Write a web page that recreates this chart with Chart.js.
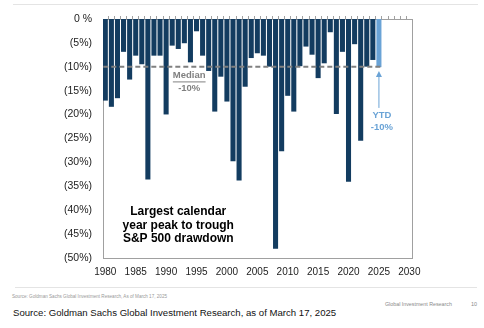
<!DOCTYPE html>
<html>
<head>
<meta charset="utf-8">
<script src="https://cdn.jsdelivr.net/npm/chart.js@4/dist/chart.umd.min.js"></script>
<style>
  html, body { margin: 0; padding: 0; background: #fff; }
  #page { position: relative; width: 484px; height: 328px; overflow: hidden; font-family: "Liberation Sans", Arial, sans-serif; }
  #chartBox { position: absolute; left: 0; top: 0; width: 484px; height: 280px; }
  .rule { position: absolute; height: 1px; background: #e4e4e4; }
  .tiny { position: absolute; left: 12px; top: 294px; font-size: 4.6px; color: #999; white-space: nowrap; }
  .brand { position: absolute; left: 385px; top: 301px; font-size: 5.3px; color: #8a8a8a; white-space: nowrap; }
  .pageNo { position: absolute; left: 471px; top: 301px; font-size: 5.5px; color: #8a8a8a; }
  .source { position: absolute; left: 13px; top: 307px; font-size: 9.6px; color: #111; white-space: nowrap; }
</style>
</head>
<body>
<div id="page">
  <div class="rule" style="left:13px; top:4px; width:465px;"></div>
  <div id="chartBox"><canvas id="drawdownChart"></canvas></div>
  <div class="rule" style="left:15px; top:287px; width:462px;"></div>
  <div class="tiny">Source: Goldman Sachs Global Investment Research, As of March 17, 2025</div>
  <div class="brand">Global Investment Research</div>
  <div class="pageNo">10</div>
  <div class="source">Source: Goldman Sachs Global Investment Research, as of March 17, 2025</div>
</div>
<script>
// calendar years with a full-year drawdown, plus the current year-to-date
const years = [
  1980, 1981, 1982, 1983, 1984, 1985, 1986, 1987, 1988, 1989,
  1990, 1991, 1992, 1993, 1994, 1995, 1996, 1997, 1998, 1999,
  2000, 2001, 2002, 2003, 2004, 2005, 2006, 2007, 2008, 2009,
  2010, 2011, 2012, 2013, 2014, 2015, 2016, 2017, 2018, 2019,
  2020, 2021, 2022, 2023, 2024
];
// peak-to-trough drawdown in each calendar year (%)
const drawdowns = [
  -17.0, -18.3, -16.5, -6.8, -12.6, -7.6, -9.4, -33.5, -7.6, -7.6,
  -19.9, -5.5, -6.2, -5.0, -9.0, -2.5, -7.6, -10.8, -19.3, -12.0,
  -17.2, -29.7, -33.7, -14.1, -8.1, -7.1, -7.6, -9.9, -48.0, -27.6,
  -16.0, -19.3, -9.8, -5.7, -7.4, -12.3, -9.2, -2.7, -19.8, -6.8,
  -34.0, -5.2, -25.4, -9.9, -8.5
];
const ytdYear = 2025;
const ytdDrawdown = -10;
const medianDrawdown = -10;
const yTicks = [0, -5, -10, -15, -20, -25, -30, -35, -40, -45, -50];
const xTicks = [1980, 1985, 1990, 1995, 2000, 2005, 2010, 2015, 2020, 2025, 2030];

const NAVY = '#133c60';
const LIGHT_BLUE = '#6aa3d6';
const GREY = '#808080';
const AXIS = '#a0a0a0';
const FONT = '"Liberation Sans", Arial, sans-serif';

const frame = {
  id: 'frame',
  beforeDatasetsDraw(chart) {
    const { ctx, chartArea: a } = chart;
    ctx.save();
    ctx.strokeStyle = AXIS;
    ctx.lineWidth = 1;
    ctx.strokeRect(Math.round(a.left) + 0.5, Math.round(a.top) + 0.5,
      Math.round(a.right - a.left), Math.round(a.bottom - a.top));
    ctx.restore();
  },
  afterDatasetsDraw(chart) {
    const { ctx, scales: { x, y } } = chart;
    ctx.save();

    // median line across the bars
    const my = y.getPixelForValue(medianDrawdown);
    ctx.strokeStyle = GREY;
    ctx.lineWidth = 2;
    ctx.setLineDash([5, 3]);
    ctx.beginPath();
    ctx.moveTo(x.getPixelForValue(years[0]) - 2, my);
    ctx.lineTo(x.getPixelForValue(ytdYear) + 3, my);
    ctx.stroke();
    ctx.setLineDash([]);

    // median label
    ctx.fillStyle = GREY;
    ctx.textAlign = 'center';
    ctx.textBaseline = 'middle';
    ctx.font = 'bold 9.5px ' + FONT;
    const mx = x.getPixelForValue(1993.8);
    ctx.fillText('Median', mx, y.getPixelForValue(-11.8));
    const w = ctx.measureText('Median').width;
    ctx.fillRect(mx - w / 2, y.getPixelForValue(-11.8) + 6, w, 1);
    ctx.fillText('-10%', mx, y.getPixelForValue(-14.5));

    // YTD callout
    const ax = x.getPixelForValue(ytdYear);
    const top = y.getPixelForValue(-10.9);
    const bot = y.getPixelForValue(-18.6);
    ctx.strokeStyle = LIGHT_BLUE;
    ctx.fillStyle = LIGHT_BLUE;
    ctx.lineWidth = 1;
    ctx.beginPath();
    ctx.moveTo(ax, bot);
    ctx.lineTo(ax, top + 4);
    ctx.stroke();
    ctx.beginPath();
    ctx.moveTo(ax, top);
    ctx.lineTo(ax - 3, top + 6);
    ctx.lineTo(ax + 3, top + 6);
    ctx.closePath();
    ctx.fill();
    const tx = x.getPixelForValue(2025.5);
    ctx.fillText('YTD', tx, y.getPixelForValue(-20.2));
    ctx.fillText('-10%', tx, y.getPixelForValue(-22.6));

    // chart title inside the plot
    ctx.fillStyle = '#000';
    ctx.font = 'bold 12px ' + FONT;
    const cx = x.getPixelForValue(1992);
    ctx.fillText('Largest calendar', cx, y.getPixelForValue(-40.4));
    ctx.fillText('year peak to trough', cx, y.getPixelForValue(-43.2));
    ctx.fillText('S&P 500 drawdown', cx, y.getPixelForValue(-46.0));
    ctx.restore();
  }
};

const points = years.map((yr, i) => ({ x: yr, y: drawdowns[i] }));
points.push({ x: ytdYear, y: ytdDrawdown });
const barColors = years.map(() => NAVY).concat(LIGHT_BLUE);

// keep label overhang from shrinking the plot area
const noSidePadding = (s) => { s.paddingLeft = 0; s.paddingRight = 0; };

new Chart(document.getElementById('drawdownChart'), {
  type: 'bar',
  data: {
    datasets: [{
      data: points,
      backgroundColor: barColors,
      barThickness: 4.4,
      borderWidth: 0
    }]
  },
  options: {
    responsive: true,
    maintainAspectRatio: false,
    animation: false,
    layout: { padding: { top: 16, right: 72, bottom: 0, left: 0 } },
    plugins: { legend: { display: false }, tooltip: { enabled: false } },
    scales: {
      x: {
        type: 'linear',
        position: 'bottom',
        offset: false,
        min: 1979.62,
        max: 2030.44,
        afterBuildTicks: (s) => { s.ticks = xTicks.map(v => ({ value: v })); },
        afterFit: (s) => { s.height = 22; noSidePadding(s); },
        grid: { display: false, drawTicks: false },
        border: { display: false },
        ticks: {
          padding: 8,
          color: '#222',
          font: { family: FONT, size: 10 },
          maxRotation: 0,
          callback: (v) => String(v)
        }
      },
      xTop: {
        type: 'linear',
        position: 'top',
        offset: false,
        min: 1979.62,
        max: 2030.44,
        afterBuildTicks: (s) => {
          const t = [];
          for (let v = 1980; v <= 2030; v++) t.push({ value: v });
          s.ticks = t;
        },
        afterFit: (s) => { s.height = 3; noSidePadding(s); },
        grid: { drawOnChartArea: false, tickLength: 3, color: AXIS },
        border: { display: false },
        ticks: { display: false }
      },
      y: {
        min: -50,
        max: 0,
        afterBuildTicks: (s) => { s.ticks = yTicks.map(v => ({ value: v })); },
        afterFit: (s) => { s.width = 103; s.paddingTop = 0; s.paddingBottom = 0; },
        grid: { display: false, drawTicks: false },
        border: { display: false },
        ticks: {
          padding: 11,
          color: '#222',
          font: { family: FONT, size: 10.5 },
          callback: (v) => v === 0 ? '0 %' : '(' + Math.abs(v) + '%)'
        }
      }
    }
  },
  plugins: [frame]
});
</script>
</body>
</html>
